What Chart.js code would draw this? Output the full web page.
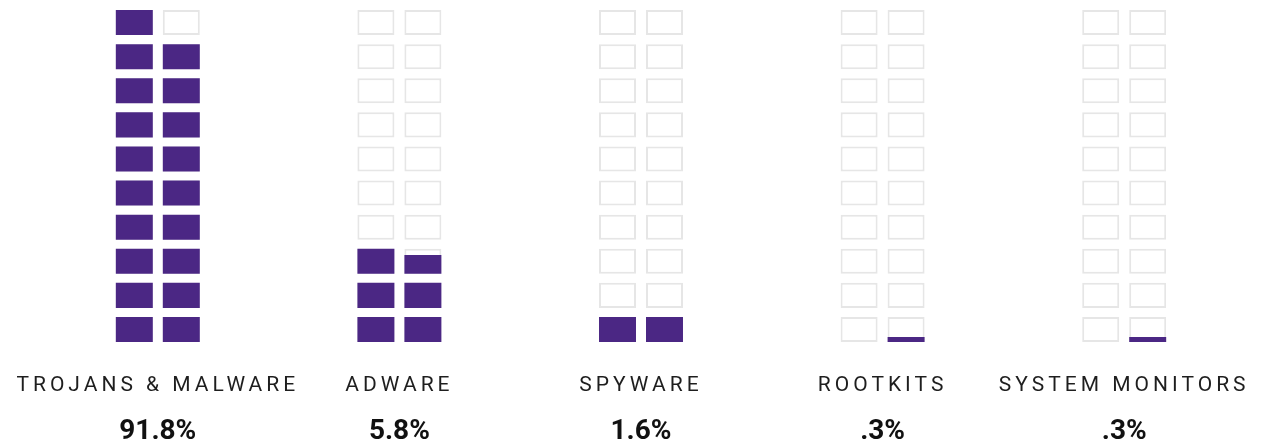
<!DOCTYPE html>
<html>
<head>
<meta charset="utf-8">
<script src="https://cdn.jsdelivr.net/npm/chart.js@4/dist/chart.umd.min.js"></script>
<style>
  html, body { margin: 0; padding: 0; background: #fff; }
  #wrap { width: 1266px; height: 442px; }
</style>
</head>
<body>
<div id="wrap"><canvas id="waffle"></canvas></div>
<script>
// categories and their share of detections
const categories = ['TROJANS & MALWARE', 'ADWARE', 'SPYWARE', 'ROOTKITS', 'SYSTEM MONITORS'];
const percentLabels = ['91.8%', '5.8%', '1.6%', '.3%', '.3%'];
// filled cells per column, counted from the bottom (as drawn in the picture)
const leftColumnFill = [10, 3, 1, 0, 0];
const rightColumnFill = [9, 2.75, 1, 0.2, 0.2];

const ROWS = 10;
const CELL = 0.735;          // cell height as a share of one row
const PURPLE = '#4b2784';
const EMPTY_BORDER = '#e6e6e6';

function cellDatasets(fills, stack) {
    const sets = [];
    for (let r = 0; r < ROWS; r++) {
        // empty cell outline
        sets.push({
            data: categories.map(() => [r, r + CELL]),
            stack: stack,
            order: 2,
            backgroundColor: '#ffffff',
            borderColor: EMPTY_BORDER,
            borderWidth: 2,
            borderSkipped: false,
        });
        // purple fill, partial when the value ends inside the cell
        sets.push({
            data: fills.map((f) => {
                const part = Math.max(0, Math.min(1, f - r));
                return part > 0 ? [r, r + CELL * part] : null;
            }),
            stack: stack,
            order: 1,
            backgroundColor: PURPLE,
            borderWidth: 0,
        });
    }
    return sets;
}

// names are letter-spaced, the percentages are not
const letterSpacing = {
    id: 'letterSpacing',
    beforeDraw(chart) { chart.ctx.letterSpacing = '4px'; },
    afterDatasetsDraw(chart) { chart.ctx.letterSpacing = '0px'; },
};

new Chart(document.getElementById('waffle'), {
    type: 'bar',
    data: {
        labels: categories,
        datasets: cellDatasets(leftColumnFill, 'L').concat(cellDatasets(rightColumnFill, 'R')),
    },
    options: {
        responsive: true,
        maintainAspectRatio: false,
        animation: false,
        categoryPercentage: 0.389,
        barPercentage: 0.787,
        layout: { padding: { left: 37, right: 21, top: 1, bottom: -4 } },
        plugins: { legend: { display: false }, tooltip: { enabled: false } },
        scales: {
            y: { display: false, min: 0, max: ROWS, stacked: false },
            x: {
                position: 'bottom',
                weight: 1,
                grid: { display: false, drawTicks: false },
                border: { display: false },
                afterFit: (scale) => { scale.height = 56; },
                ticks: {
                    padding: 31,
                    color: '#1e1e1e',
                    maxRotation: 0,
                    autoSkip: false,
                    font: { family: 'Roboto', size: 21, weight: '400' },
                },
            },
            pct: {
                type: 'category',
                labels: percentLabels,
                position: 'bottom',
                weight: 2,
                offset: true,
                grid: { display: false, drawTicks: false },
                border: { display: false },
                afterFit: (scale) => { scale.height = 48; },
                ticks: {
                    z: 1,
                    padding: 20,
                    color: '#111111',
                    maxRotation: 0,
                    autoSkip: false,
                    font: { family: 'Roboto', size: 28, weight: 'bold', lineHeight: 1 },
                },
            },
        },
    },
    plugins: [letterSpacing],
});
</script>
</body>
</html>
